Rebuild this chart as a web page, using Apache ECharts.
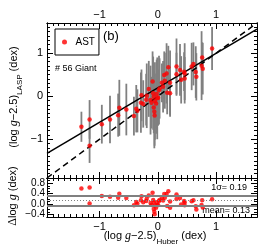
<!DOCTYPE html>
<html><head><meta charset="utf-8">
<script src="https://cdn.jsdelivr.net/npm/echarts@6/dist/echarts.min.js"></script>
<style>html,body{margin:0;padding:0;background:#fff}#c{width:277px;height:246px}</style>
</head><body><div id="c"></div>
<script>
// Data
const huber = [-1.31,-1.17,-1.17,-0.96,-0.82,-0.68,-0.66,-0.54,-0.37,-0.41,-0.29,-0.28,-0.25,-0.19,-0.155,-0.125,-0.09,-0.08,-0.07,-0.05,-0.03,-0.02,-0.01,-0.06,-0.055,0.005,0.02,0.09,0.11,0.15,0.18,0.21,0.21,0.32,0.32,0.38,0.40,0.46,0.46,0.45,0.58,0.61,0.65,0.75,0.76,0.93,0.07,0.12,0.16,-0.11,0.03,-0.35,0.77,0.66,-0.07,-0.20];
const lasp  = [-0.71,-0.54,-1.15,-0.65,-0.54,-0.44,-0.27,-0.31,-0.29,-0.46,-0.15,0.02,-0.18,0.01,0.17,-0.09,0.34,0.07,-0.01,-0.11,-0.17,0.05,-0.05,-0.36,-0.45,-0.035,0.14,0.22,0.49,0.53,0.67,0.31,0.07,0.69,0.51,0.61,0.38,0.53,0.41,0.57,0.69,0.75,0.56,0.71,0.90,1.11,0.31,0.36,0.08,-0.15,0.18,-0.34,0.64,0.45,-0.26,-0.08];
const errs  = [0.35,0.45,0.40,0.45,0.55,0.50,0.65,0.60,0.55,0.45,0.70,0.60,0.55,0.75,0.65,0.80,0.70,0.85,0.60,0.90,0.70,0.80,0.95,0.85,0.70,0.65,0.80,0.60,0.55,0.70,0.50,0.75,0.55,0.65,0.50,0.60,0.55,0.70,0.50,0.45,0.55,0.50,0.60,0.80,0.35,0.50,0.45,0.65,0.50,0.60,0.70,0.50,0.60,0.55,0.60,0.60];
const xTickLabels = [-1, 0, 1];
const yTickLabels = [-1, 0, 1];
const dTickLabels = [-0.4, 0.0, 0.4, 0.8];
const fitLineX = [-1.9, 1.7];
const fitLineY = [-1.33, 1.56];
const oneToOneXY = [-1.9, 1.7];
const meanVal = 0.13;
const sigmaVal = 0.19;
const nStars = 56;

const SANS = 'Liberation Sans';
const mainData = huber.map((x, i) => [x, lasp[i], errs[i]]);
const resData = huber.map((x, i) => [x, +(lasp[i] - x).toFixed(3)]);
const fmt = v => (v < 0 ? '\u2212' : '') + Math.abs(v);
const fmt1 = v => (v < 0 ? '\u2212' : '') + Math.abs(v).toFixed(1);

const XR = { min: -1.9, max: 1.7 };
const YR = { min: -1.9, max: 1.7 };
const DR = { min: -0.5, max: 1.0 };
const line = { show: true, onZero: false, lineStyle: { color: '#000', width: 1 } };

function ax(gridIndex, pos, range, minorStep, majors, label, fmtFn, lblSize, margin) {
  const minor = { type: 'value', gridIndex, position: pos, min: range.min, max: range.max, interval: minorStep,
    axisLine: line, splitLine: { show: false },
    axisTick: { show: true, inside: true, length: 3, lineStyle: { color: '#000', width: 1 } },
    axisLabel: { show: false } };
  const major = { type: 'value', gridIndex, position: pos, min: range.min, max: range.max,
    axisLine: line, splitLine: { show: false },
    axisTick: { show: true, inside: true, length: 6, customValues: majors, lineStyle: { color: '#000', width: 1 } },
    axisLabel: label ? { show: true, hideOverlap: false, customValues: majors, formatter: fmtFn, color: '#000', fontFamily: SANS, fontSize: lblSize, lineHeight: lblSize, margin } : { show: false } };
  return [minor, major];
}

const xAxes = [
  ...ax(0, 'bottom', XR, 0.1, xTickLabels, false),
  ...ax(0, 'top', XR, 0.1, xTickLabels, true, fmt, 11, 3),
  ...ax(1, 'top', XR, 0.1, xTickLabels, false),
  ...ax(1, 'bottom', XR, 0.1, xTickLabels, true, fmt, 11, 4)
];
const yAxes = [
  ...ax(0, 'left', YR, 0.1, yTickLabels, true, fmt, 11, 4),
  ...ax(0, 'right', YR, 0.1, yTickLabels, false),
  ...ax(1, 'left', DR, 0.1, dTickLabels, true, fmt1, 10, 2),
  ...ax(1, 'right', DR, 0.1, dTickLabels, false)
];

const chart = echarts.init(document.getElementById('c'), null, { renderer: 'canvas' });
chart.setOption({
  animation: false,
  grid: [
    { left: 47, top: 23, width: 210, height: 155 },
    { left: 47, top: 178, width: 210, height: 39 }
  ],
  xAxis: xAxes,
  yAxis: yAxes,
  legend: {
    data: [{ name: 'AST', icon: 'circle' }],
    left: 55, top: 29, orient: 'vertical',
    padding: [8, 4, 8, 7], itemWidth: 12, itemHeight: 5,
    borderColor: '#000', borderWidth: 1,
    textStyle: { fontFamily: SANS, fontSize: 10, color: '#000' }
  },
  series: [
    {
      type: 'custom', name: 'err', xAxisIndex: 0, yAxisIndex: 0, clip: true, z: 1,
      data: mainData,
      renderItem: (params, api) => {
        const x = api.value(0), y = api.value(1), e = api.value(2);
        const p1 = api.coord([x, y - e]), p2 = api.coord([x, y + e]);
        return { type: 'line', shape: { x1: p1[0], y1: p1[1], x2: p2[0], y2: p2[1] },
          style: { stroke: '#808080', lineWidth: 1.8 } };
      }
    },
    {
      type: 'line', name: 'fit', xAxisIndex: 0, yAxisIndex: 0, symbol: 'none', z: 2,
      data: fitLineX.map((x, i) => [x, fitLineY[i]]),
      lineStyle: { color: '#000', width: 1.5 }
    },
    {
      type: 'line', name: 'one', xAxisIndex: 0, yAxisIndex: 0, symbol: 'none', z: 2,
      data: oneToOneXY.map(v => [v, v]),
      lineStyle: { color: '#000', width: 1.5, type: [6, 4] }
    },
    {
      type: 'scatter', name: 'AST', xAxisIndex: 0, yAxisIndex: 0, z: 3,
      data: mainData.map(d => [d[0], d[1]]), symbolSize: 4.5,
      itemStyle: { color: '#ff0000' }
    },
    {
      type: 'scatter', name: 'res', xAxisIndex: 4, yAxisIndex: 4, z: 3,
      data: resData, symbolSize: 4.5,
      itemStyle: { color: '#ff0000' },
      markLine: {
        silent: true, symbol: 'none', label: { show: false },
        data: [
          { yAxis: meanVal + sigmaVal, lineStyle: { color: '#808080', width: 2, type: 'solid' } },
          { yAxis: meanVal - sigmaVal, lineStyle: { color: '#808080', width: 2, type: 'solid' } },
          { yAxis: meanVal, lineStyle: { color: '#808080', width: 1, type: [1, 2] } }
        ]
      }
    }
  ],
  graphic: [
    { type: 'text', left: 103, top: 30, style: { text: '(b)', font: '13px ' + SANS, fill: '#000' } },
    { type: 'text', left: 55, top: 64, style: { text: '# ' + nStars + ' Giant', font: '9px ' + SANS, fill: '#000' } },
    { type: 'text', right: 30, top: 183, style: { text: '1\u03c3= ' + sigmaVal.toFixed(2), font: '9px ' + SANS, fill: '#000' } },
    { type: 'text', right: 27, top: 206, style: { text: 'mean= ' + meanVal.toFixed(2), font: '9px ' + SANS, fill: '#000' } },
    { type: 'text', x: 155, y: 238, style: {
        text: '{s|(log }{i|g}{s|\u22122.5)}{sub|Huber}{s| (dex)}', align: 'center', verticalAlign: 'middle',
        rich: { s: { fontFamily: SANS, fontSize: 11, padding: [0, 0, 4, 0], verticalAlign: 'top' },
                i: { fontFamily: 'Liberation Serif', fontStyle: 'italic', fontSize: 12, padding: [0, 0, 4, 0], verticalAlign: 'top' },
                sub: { fontFamily: SANS, fontSize: 8, verticalAlign: 'bottom' } } } },
    { type: 'text', x: 16, y: 97, rotation: Math.PI / 2, style: {
        text: '{s|(log }{i|g}{s|\u22122.5)}{sub|LASP}{s| (dex)}', align: 'center', verticalAlign: 'middle',
        rich: { s: { fontFamily: SANS, fontSize: 11, padding: [0, 0, 4, 0], verticalAlign: 'top' },
                i: { fontFamily: 'Liberation Serif', fontStyle: 'italic', fontSize: 12, padding: [0, 0, 4, 0], verticalAlign: 'top' },
                sub: { fontFamily: SANS, fontSize: 8, verticalAlign: 'bottom' } } } },
    { type: 'text', x: 13, y: 196, rotation: Math.PI / 2, style: {
        text: '{d|\u0394}{s|log }{i|g}{s| (dex)}', align: 'center', verticalAlign: 'middle',
        rich: { s: { fontFamily: SANS, fontSize: 11 }, d: { fontFamily: 'Liberation Serif', fontSize: 12 },
                i: { fontFamily: 'Liberation Serif', fontStyle: 'italic', fontSize: 12 } } } }
  ]
});
</script></body></html>
